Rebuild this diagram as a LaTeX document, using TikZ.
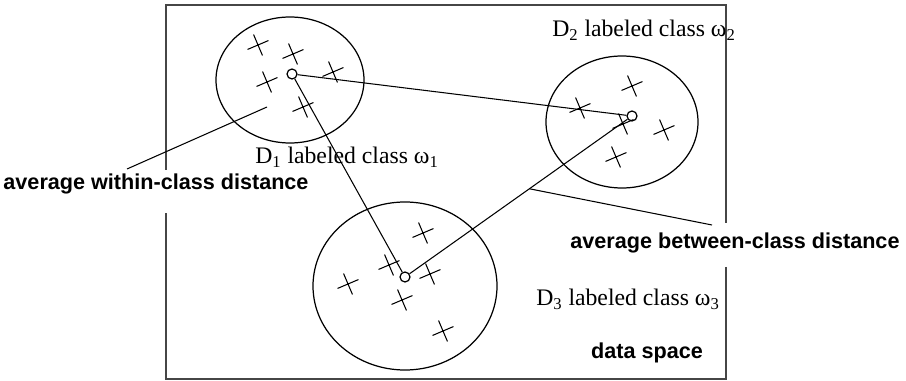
\documentclass[tikz,border=0pt]{standalone}
\usepackage{fontspec}
\setmainfont{Liberation Serif}
\newfontfamily\labelsans{Liberation Sans}
\usepackage{tikz}
\usetikzlibrary{
  shapes.misc,
  calc
}
\definecolor{frame}{RGB}{70,70,70}

\begin{document}
\begin{tikzpicture}[
  x=0.02cm,y=-0.02cm,
  pt/.style={cross out,draw,minimum size=0.3cm,inner sep=0pt,rotate=-22,line width=0.6pt},
  ctr/.style={circle,draw,minimum size=0.2cm,inner sep=0pt,line width=0.7pt},
  cls/.style={draw,line width=0.7pt},
  ln/.style={line width=0.6pt},
  dlab/.style={font=\fontsize{13.5}{15}\selectfont,inner sep=0pt},
  blab/.style={font=\labelsans\bfseries\fontsize{12.3}{14}\selectfont,inner sep=1pt}
]
\useasboundingbox (0,0) rectangle (906,381);

% data space frame
\draw[frame,line width=1.3pt] (166,170) -- (166,5) -- (726,5) -- (726,223);
\draw[frame,line width=1.3pt] (726,267) -- (726,379) -- (166,379) -- (166,213);

% class regions
\draw[cls] (290,80) ellipse [x radius=74,y radius=63];
\draw[cls] (622,122) ellipse [x radius=76,y radius=66];
\draw[cls] (405,286) ellipse [x radius=92,y radius=84];

% centroids
\node[ctr] (c1) at (292,74) {};
\node[ctr] (c2) at (632,116) {};
\node[ctr] (c3) at (405,277) {};

% samples of D1
\node[pt] (a1) at (258,45) {};
\node[pt] (a2) at (293,54) {};
\node[pt] (a3) at (267,82) {};
\node[pt] (a4) at (333,72) {};
\node[pt] (a5) at (303,107) {};
% samples of D2
\node[pt] (b1) at (632,86) {};
\node[pt] (b2) at (580,108) {};
\node[pt] (b3) at (623,124) {};
\node[pt] (b4) at (664,130) {};
\node[pt] (b5) at (616,157) {};
% samples of D3
\node[pt] (d1) at (423,233) {};
\node[pt] (d2) at (389,265) {};
\node[pt] (d3) at (348,284) {};
\node[pt] (d4) at (430,274) {};
\node[pt] (d5) at (402,300) {};
\node[pt] (d6) at (443,331) {};

% between-class distances
\draw[ln] (c1) -- (c2);
\draw[ln] (c1) -- (c3);
\draw[ln] (c3) -- coordinate[pos=0.55] (mid32) (c2);

% labels
\node[dlab] (l1) at (347,157) {D\textsubscript{1} labeled class ω\textsubscript{1}};
\node[dlab] (l2) at (644,30) {D\textsubscript{2} labeled class ω\textsubscript{2}};
\node[dlab] (l3) at (628,299) {D\textsubscript{3} labeled class ω\textsubscript{3}};
\node[blab] (within) at (156,184) {average within-class distance};
\node[blab] (between) at (735,243) {average between-class distance};
\node[blab] (space) at (647,353) {data space};

% leaders
\coordinate (win) at (267,107);
\coordinate (wend) at (127,169);
\coordinate (bend) at (712,225);
\draw[ln] (wend) -- (win);
\draw[ln] (mid32) -- (bend);
\end{tikzpicture}
\end{document}
